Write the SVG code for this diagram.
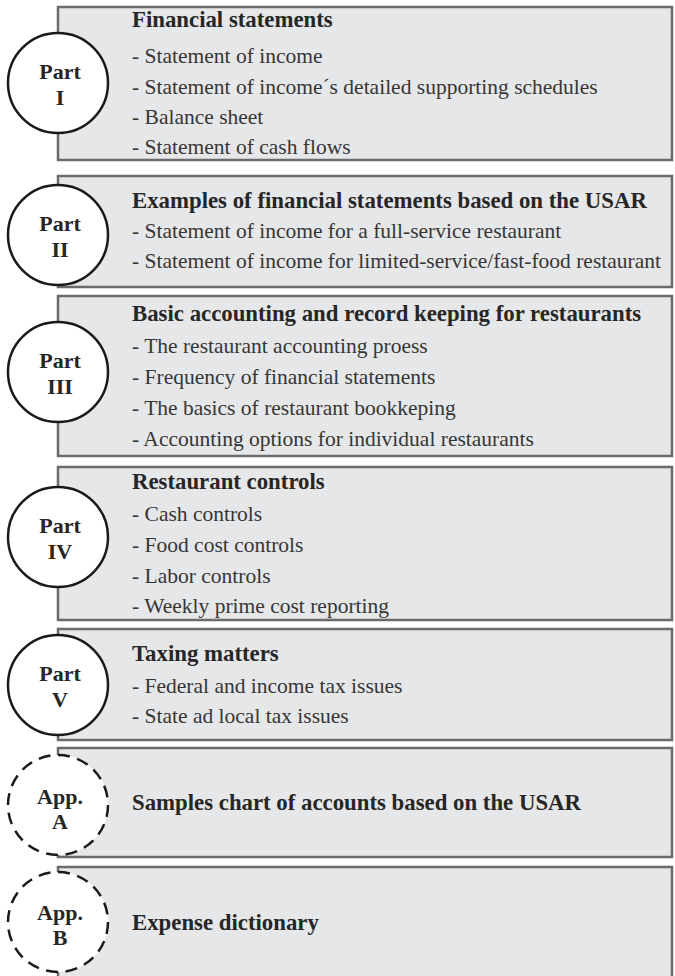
<svg xmlns="http://www.w3.org/2000/svg" width="675" height="976" viewBox="0 0 675 976">
<style>
.box{fill:#e6e7e9;stroke:#6b6b6d;stroke-width:2.5}
.circ{fill:#ffffff;stroke:#1a1a1a;stroke-width:2.5}
.dash{stroke-dasharray:12 7.6}
.title{font-family:"Liberation Serif","Times New Roman",Times,serif;font-weight:bold;font-size:22.8px;fill:#262626}
.item{font-family:"Liberation Serif","Times New Roman",Times,serif;font-size:21.5px;fill:#363636}
.lbl{font-family:"Liberation Serif","Times New Roman",Times,serif;font-weight:bold;font-size:22px;fill:#262626;text-anchor:middle}
</style>
<rect width="675" height="976" fill="#ffffff"/>
<g id="connectors"></g>
<g id="part1">
<rect class="box" x="58" y="7" width="614" height="153"/>
<circle class="circ" cx="58" cy="83" r="50"/>
<text class="lbl" x="60" y="79">Part</text>
<text class="lbl" x="60" y="105">I</text>
<text class="title" x="132" y="27">Financial statements</text>
<text class="item" x="132" y="63">- Statement of income</text>
<text class="item" x="132" y="94">- Statement of income´s detailed supporting schedules</text>
<text class="item" x="132" y="124">- Balance sheet</text>
<text class="item" x="132" y="154">- Statement of cash flows</text>
</g>
<g id="part2">
<rect class="box" x="58" y="176" width="614" height="111"/>
<circle class="circ" cx="58" cy="235" r="50"/>
<text class="lbl" x="60" y="231">Part</text>
<text class="lbl" x="60" y="257">II</text>
<text class="title" x="132" y="208">Examples of financial statements based on the USAR</text>
<text class="item" x="132" y="238">- Statement of income for a full-service restaurant</text>
<text class="item" x="132" y="268">- Statement of income for limited-service/fast-food restaurant</text>
</g>
<g id="part3">
<rect class="box" x="58" y="296" width="614" height="160"/>
<circle class="circ" cx="58" cy="372" r="50"/>
<text class="lbl" x="60" y="368">Part</text>
<text class="lbl" x="60" y="394">III</text>
<text class="title" x="132" y="321">Basic accounting and record keeping for restaurants</text>
<text class="item" x="132" y="353">- The restaurant accounting proess</text>
<text class="item" x="132" y="384">- Frequency of financial statements</text>
<text class="item" x="132" y="415">- The basics of restaurant bookkeping</text>
<text class="item" x="132" y="446">- Accounting options for individual restaurants</text>
</g>
<g id="part4">
<rect class="box" x="58" y="467" width="614" height="153"/>
<circle class="circ" cx="58" cy="537" r="50"/>
<text class="lbl" x="60" y="533">Part</text>
<text class="lbl" x="60" y="559">IV</text>
<text class="title" x="132" y="489">Restaurant controls</text>
<text class="item" x="132" y="521">- Cash controls</text>
<text class="item" x="132" y="552">- Food cost controls</text>
<text class="item" x="132" y="583">- Labor controls</text>
<text class="item" x="132" y="613">- Weekly prime cost reporting</text>
</g>
<g id="part5">
<rect class="box" x="58" y="629" width="614" height="111"/>
<circle class="circ" cx="58" cy="685" r="50"/>
<text class="lbl" x="60" y="681">Part</text>
<text class="lbl" x="60" y="707">V</text>
<text class="title" x="132" y="661">Taxing matters</text>
<text class="item" x="132" y="693">- Federal and income tax issues</text>
<text class="item" x="132" y="723">- State ad local tax issues</text>
</g>
<g id="appA">
<rect class="box" x="58" y="748" width="614" height="109"/>
<circle class="circ dash" cx="58" cy="805" r="50"/>
<text class="lbl" x="60" y="804">App.</text>
<text class="lbl" x="60" y="829">A</text>
<text class="title" x="132" y="810">Samples chart of accounts based on the USAR</text>
</g>
<g id="appB">
<rect class="box" x="58" y="867" width="614" height="115"/>
<circle class="circ dash" cx="58" cy="922" r="50"/>
<text class="lbl" x="60" y="920">App.</text>
<text class="lbl" x="60" y="945">B</text>
<text class="title" x="132" y="930">Expense dictionary</text>
</g>
</svg>
